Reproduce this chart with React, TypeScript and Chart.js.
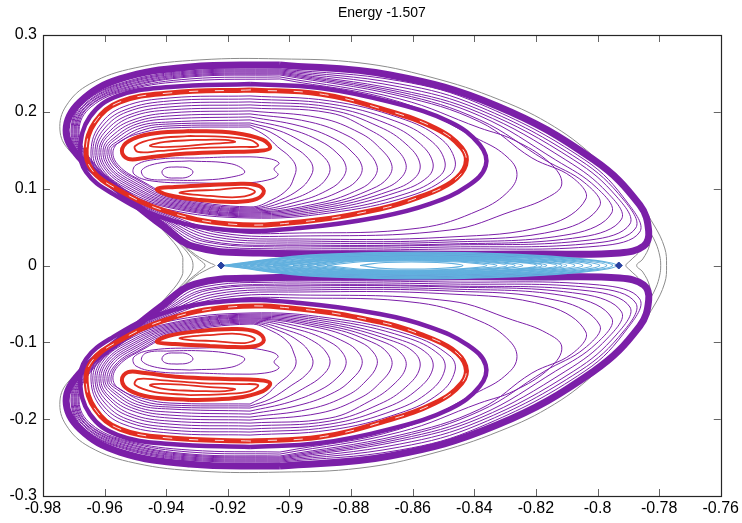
import React, { useEffect, useRef } from 'react';
import { Chart, registerables } from 'chart.js';

Chart.register(...registerables);

type P = [number, number];

const chartTitle = 'Energy -1.507';
const xTickValues = [-0.98, -0.96, -0.94, -0.92, -0.9, -0.88, -0.86, -0.84, -0.82, -0.8, -0.78, -0.76];
const xTickLabels = ['-0.98', '-0.96', '-0.94', '-0.92', '-0.9', '-0.88', '-0.86', '-0.84', '-0.82', '-0.8', '-0.78', '-0.76'];
const yTickValues = [-0.3, -0.2, -0.1, 0, 0.1, 0.2, 0.3];
const yTickLabels = ['-0.3', '-0.2', '-0.1', '0', '0.1', '0.2', '0.3'];

// Upper lobe (lower lobe is its mirror image in y)
const outerBand: P[] = [[-0.9031,0.2611],[-0.9323,0.2585],[-0.9550,0.2428],[-0.9680,0.2129],[-0.9725,0.1764],[-0.9683,0.1413],[-0.9557,0.0983],[-0.9411,0.0514],[-0.9307,0.0241],[-0.9096,0.0163],[-0.8642,0.0150],[-0.8187,0.0150],[-0.7928,0.0163],[-0.7850,0.0254],[-0.7834,0.0449],[-0.7863,0.0788],[-0.8012,0.1374],[-0.8327,0.2077],[-0.8674,0.2480]];

const outerLoops: P[][] = [
  [[-0.9031,0.2559],[-0.9323,0.2533],[-0.9534,0.2389],[-0.9670,0.2116],[-0.9709,0.1764],[-0.9677,0.1413],[-0.9563,0.0983],[-0.9411,0.0566],[-0.9291,0.0254],[-0.8966,0.0202],[-0.8479,0.0215],[-0.7993,0.0254],[-0.7863,0.0436],[-0.7902,0.0814],[-0.8041,0.1374],[-0.8382,0.2103],[-0.8642,0.2402]],
  [[-0.9031,0.2546],[-0.9323,0.2520],[-0.9534,0.2376],[-0.9667,0.2116],[-0.9706,0.1764],[-0.9674,0.1413],[-0.9560,0.0983],[-0.9407,0.0566],[-0.9281,0.0280],[-0.8966,0.0228],[-0.8479,0.0241],[-0.8006,0.0293],[-0.7876,0.0488],[-0.7915,0.0853],[-0.8058,0.1374],[-0.8382,0.2064],[-0.8642,0.2363]],
  [[-0.9031,0.2533],[-0.9323,0.2507],[-0.9534,0.2363],[-0.9664,0.2103],[-0.9703,0.1764],[-0.9670,0.1413],[-0.9557,0.0983],[-0.9404,0.0579],[-0.9271,0.0306],[-0.8966,0.0254],[-0.8479,0.0267],[-0.8025,0.0332],[-0.7895,0.0540],[-0.7937,0.0892],[-0.8077,0.1374],[-0.8382,0.2025],[-0.8642,0.2324]],
  [[-0.9031,0.2520],[-0.9323,0.2494],[-0.9531,0.2350],[-0.9660,0.2103],[-0.9699,0.1764],[-0.9667,0.1413],[-0.9553,0.0983],[-0.9401,0.0592],[-0.9261,0.0319],[-0.8966,0.0267],[-0.8479,0.0280],[-0.8051,0.0371],[-0.7922,0.0605],[-0.7967,0.0944],[-0.8103,0.1374],[-0.8382,0.1986],[-0.8642,0.2285]],
  [[-0.9031,0.2507],[-0.9323,0.2480],[-0.9531,0.2337],[-0.9657,0.2090],[-0.9696,0.1764],[-0.9664,0.1413],[-0.9550,0.0983],[-0.9398,0.0605],[-0.9252,0.0345],[-0.8966,0.0293],[-0.8479,0.0306],[-0.8084,0.0410],[-0.7954,0.0684],[-0.8002,0.1009],[-0.8136,0.1374],[-0.8382,0.1947],[-0.8642,0.2259]],
  [[-0.9031,0.2494],[-0.9323,0.2467],[-0.9527,0.2324],[-0.9654,0.2090],[-0.9693,0.1764],[-0.9660,0.1413],[-0.9547,0.0983],[-0.9394,0.0618],[-0.9242,0.0371],[-0.8966,0.0319],[-0.8479,0.0332],[-0.8123,0.0462],[-0.7993,0.0775],[-0.8041,0.1074],[-0.8171,0.1374],[-0.8382,0.1895],[-0.8642,0.2233]],
  [[-0.9031,0.2480],[-0.9323,0.2454],[-0.9527,0.2311],[-0.9651,0.2077],[-0.9690,0.1764],[-0.9657,0.1413],[-0.9544,0.0996],[-0.9391,0.0631],[-0.9232,0.0397],[-0.8966,0.0345],[-0.8479,0.0371],[-0.8161,0.0527],[-0.8038,0.0866],[-0.8084,0.1152],[-0.8213,0.1400],[-0.8382,0.1869],[-0.8642,0.2207]],
  [[-0.9031,0.2454],[-0.9323,0.2428],[-0.9524,0.2298],[-0.9648,0.2077],[-0.9686,0.1764],[-0.9654,0.1413],[-0.9540,0.0996],[-0.9388,0.0645],[-0.9222,0.0423],[-0.8966,0.0384],[-0.8479,0.0462],[-0.8275,0.0710],[-0.8165,0.0879],[-0.8116,0.1061],[-0.8155,0.1335],[-0.8272,0.1634],[-0.8382,0.1790],[-0.8642,0.2168]],
  [[-0.9031,0.2428],[-0.9323,0.2402],[-0.9524,0.2285],[-0.9644,0.2064],[-0.9683,0.1764],[-0.9651,0.1413],[-0.9537,0.0996],[-0.9385,0.0658],[-0.9213,0.0449],[-0.8966,0.0423],[-0.8577,0.0488],[-0.8382,0.0723],[-0.8285,0.0983],[-0.8262,0.1217],[-0.8301,0.1439],[-0.8382,0.1634],[-0.8642,0.2129]],
];

const bandOutsideRed: P[] = [[-0.9128,0.2363],[-0.9388,0.2324],[-0.9557,0.2207],[-0.9648,0.1934],[-0.9680,0.1504],[-0.9660,0.1217],[-0.9583,0.0957],[-0.9420,0.0632],[-0.9200,0.0462],[-0.8966,0.0488],[-0.8707,0.0632],[-0.8544,0.0801],[-0.8421,0.1036],[-0.8363,0.1296],[-0.8382,0.1569],[-0.8479,0.1868],[-0.8674,0.2129],[-0.8901,0.2311]];

const redChain: P[] = [[-0.9128,0.2285],[-0.9388,0.2246],[-0.9550,0.2129],[-0.9631,0.1868],[-0.9660,0.1504],[-0.9641,0.1244],[-0.9566,0.1009],[-0.9404,0.0710],[-0.9193,0.0540],[-0.8966,0.0566],[-0.8707,0.0736],[-0.8577,0.0892],[-0.8473,0.1087],[-0.8428,0.1309],[-0.8441,0.1530],[-0.8528,0.1790],[-0.8690,0.2025],[-0.8901,0.2233]];

const innerLoops: P[][] = [
  [[-0.9128,0.2207],[-0.9388,0.2181],[-0.9540,0.2064],[-0.9615,0.1829],[-0.9644,0.1504],[-0.9625,0.1217],[-0.9557,0.0983],[-0.9404,0.0736],[-0.9128,0.0618],[-0.8869,0.0684],[-0.8609,0.0905],[-0.8479,0.1178],[-0.8463,0.1374],[-0.8512,0.1660],[-0.8642,0.1921],[-0.8869,0.2142]],
  [[-0.9128,0.2168],[-0.9388,0.2142],[-0.9534,0.2025],[-0.9609,0.1803],[-0.9638,0.1504],[-0.9618,0.1230],[-0.9550,0.0996],[-0.9401,0.0762],[-0.9128,0.0632],[-0.8869,0.0710],[-0.8625,0.0931],[-0.8512,0.1165],[-0.8496,0.1361],[-0.8544,0.1634],[-0.8658,0.1882],[-0.8869,0.2103]],
  [[-0.9128,0.2129],[-0.9388,0.2103],[-0.9527,0.1999],[-0.9602,0.1777],[-0.9631,0.1504],[-0.9612,0.1244],[-0.9544,0.1009],[-0.9398,0.0775],[-0.9128,0.0645],[-0.8869,0.0736],[-0.8648,0.0957],[-0.8551,0.1152],[-0.8535,0.1348],[-0.8583,0.1608],[-0.8681,0.1842],[-0.8869,0.2064]],
  [[-0.9128,0.2090],[-0.9388,0.2064],[-0.9521,0.1960],[-0.9596,0.1751],[-0.9625,0.1504],[-0.9605,0.1244],[-0.9537,0.1022],[-0.9394,0.0788],[-0.9128,0.0658],[-0.8869,0.0762],[-0.8674,0.0970],[-0.8593,0.1139],[-0.8577,0.1335],[-0.8622,0.1582],[-0.8707,0.1803],[-0.8869,0.2025]],
  [[-0.9128,0.2051],[-0.9388,0.2025],[-0.9514,0.1934],[-0.9589,0.1725],[-0.9618,0.1504],[-0.9599,0.1257],[-0.9531,0.1035],[-0.9391,0.0801],[-0.9128,0.0671],[-0.8869,0.0788],[-0.8703,0.0983],[-0.8638,0.1139],[-0.8622,0.1322],[-0.8664,0.1556],[-0.8739,0.1764],[-0.8869,0.1986]],
  [[-0.9128,0.2012],[-0.9388,0.1986],[-0.9508,0.1895],[-0.9583,0.1712],[-0.9612,0.1504],[-0.9592,0.1257],[-0.9524,0.1048],[-0.9388,0.0814],[-0.9128,0.0684],[-0.8869,0.0814],[-0.8733,0.0996],[-0.8681,0.1139],[-0.8668,0.1309],[-0.8707,0.1530],[-0.8771,0.1725],[-0.8901,0.1921]],
  [[-0.9128,0.1973],[-0.9388,0.1947],[-0.9501,0.1868],[-0.9576,0.1686],[-0.9605,0.1504],[-0.9586,0.1270],[-0.9518,0.1061],[-0.9385,0.0827],[-0.9128,0.0697],[-0.8901,0.0814],[-0.8771,0.0996],[-0.8726,0.1139],[-0.8716,0.1296],[-0.8752,0.1504],[-0.8810,0.1686],[-0.8934,0.1868]],
  [[-0.9128,0.1934],[-0.9388,0.1908],[-0.9495,0.1842],[-0.9570,0.1660],[-0.9599,0.1504],[-0.9579,0.1270],[-0.9511,0.1074],[-0.9381,0.0840],[-0.9128,0.0710],[-0.8934,0.0827],[-0.8820,0.0996],[-0.8775,0.1139],[-0.8765,0.1296],[-0.8797,0.1478],[-0.8853,0.1647],[-0.8966,0.1816]],
  [[-0.9128,0.1895],[-0.9388,0.1868],[-0.9489,0.1816],[-0.9563,0.1647],[-0.9592,0.1504],[-0.9573,0.1283],[-0.9505,0.1087],[-0.9378,0.0853],[-0.9128,0.0723],[-0.8966,0.0840],[-0.8869,0.0996],[-0.8827,0.1139],[-0.8817,0.1296],[-0.8846,0.1465],[-0.8901,0.1621],[-0.8999,0.1777]],
  [[-0.9128,0.1855],[-0.9388,0.1842],[-0.9482,0.1790],[-0.9557,0.1621],[-0.9586,0.1504],[-0.9566,0.1296],[-0.9498,0.1100],[-0.9375,0.0866],[-0.9128,0.0736],[-0.8999,0.0853],[-0.8918,0.0996],[-0.8879,0.1139],[-0.8869,0.1283],[-0.8895,0.1439],[-0.8947,0.1582],[-0.9031,0.1751]],
  [[-0.9128,0.1829],[-0.9388,0.1816],[-0.9476,0.1764],[-0.9550,0.1608],[-0.9579,0.1504],[-0.9560,0.1296],[-0.9492,0.1113],[-0.9372,0.0879],[-0.9128,0.0749],[-0.9031,0.0853],[-0.8966,0.0996],[-0.8934,0.1139],[-0.8924,0.1283],[-0.8947,0.1426],[-0.8992,0.1556],[-0.9063,0.1738]],
  [[-0.9128,0.1803],[-0.9388,0.1790],[-0.9469,0.1738],[-0.9547,0.1621],[-0.9573,0.1478],[-0.9553,0.1296],[-0.9485,0.1113],[-0.9368,0.0892],[-0.9128,0.0762],[-0.9057,0.0853],[-0.9005,0.0996],[-0.8986,0.1139],[-0.8979,0.1283],[-0.8999,0.1413],[-0.9038,0.1543],[-0.9076,0.1686]],
];

const centreLoops: P[][] = [
  [[-0.9365,0.1283],[-0.9401,0.1270],[-0.9414,0.1217],[-0.9401,0.1152],[-0.9365,0.1139],[-0.9330,0.1152],[-0.9313,0.1217],[-0.9330,0.1270]],
  [[-0.9323,0.1361],[-0.9420,0.1335],[-0.9479,0.1244],[-0.9466,0.1139],[-0.9388,0.1113],[-0.9274,0.1113],[-0.9187,0.1152],[-0.9145,0.1217],[-0.9187,0.1322]],
  [[-0.9291,0.1400],[-0.9420,0.1387],[-0.9498,0.1309],[-0.9505,0.1191],[-0.9446,0.1100],[-0.9291,0.1074],[-0.9145,0.1074],[-0.9070,0.1113],[-0.9037,0.1178],[-0.9050,0.1257],[-0.9034,0.1335],[-0.9080,0.1400],[-0.9177,0.1413]],
];

const upperIslandOuter: P[] = [[-0.9323,0.1751],[-0.9453,0.1712],[-0.9521,0.1621],[-0.9544,0.1491],[-0.9524,0.1387],[-0.9469,0.1400],[-0.9356,0.1452],[-0.9209,0.1478],[-0.9102,0.1491],[-0.9063,0.1530],[-0.9086,0.1634],[-0.9177,0.1725]];
const upperIslandInner: P[][] = [
  [[-0.9323,0.1686],[-0.9437,0.1647],[-0.9501,0.1556],[-0.9492,0.1478],[-0.9420,0.1491],[-0.9291,0.1530],[-0.9161,0.1543],[-0.9102,0.1556],[-0.9128,0.1634],[-0.9209,0.1673]],
  [[-0.9307,0.1634],[-0.9404,0.1608],[-0.9453,0.1556],[-0.9388,0.1543],[-0.9258,0.1582],[-0.9177,0.1608],[-0.9209,0.1634]],
];
const lowerIslandOuter: P[] = [[-0.9258,0.1048],[-0.9372,0.1022],[-0.9430,0.0996],[-0.9394,0.0918],[-0.9291,0.0853],[-0.9177,0.0827],[-0.9106,0.0866],[-0.9083,0.0970],[-0.9109,0.1048],[-0.9177,0.1061]];
const lowerIslandInner: P[] = [[-0.9242,0.0983],[-0.9323,0.0970],[-0.9356,0.0944],[-0.9258,0.0905],[-0.9161,0.0892],[-0.9112,0.0957],[-0.9145,0.1009]];

// Separatrix-like gray orbits (upper halves, mirrored for the lower half)
const grayOuterHalf: P[] = [[-0.9346,0],[-0.9349,0.0137],[-0.9388,0.0358],[-0.9485,0.0762],[-0.9615,0.1178],[-0.9716,0.1504],[-0.9745,0.1764],[-0.9725,0.2077],[-0.9648,0.2363],[-0.9501,0.2572],[-0.9291,0.2676],[-0.9031,0.2689],[-0.8771,0.2637],[-0.8544,0.2454],[-0.8317,0.2155],[-0.8139,0.1803],[-0.7999,0.1374],[-0.7889,0.0944],[-0.7817,0.0527],[-0.7782,0.0228],[-0.7776,0]];
const grayArcHalves: P[][] = [
  [[-0.9420,0.0566],[-0.9362,0.0306],[-0.9323,0.0124],[-0.9313,0]],
  [[-0.9394,0.0462],[-0.9330,0.0202],[-0.9291,0.0072],[-0.9274,0]],
  [[-0.9369,0.0358],[-0.9304,0.0137],[-0.9258,0.0033],[-0.9242,0]],
  [[-0.7837,0.0488],[-0.7811,0.0293],[-0.7798,0.0124],[-0.7795,0]],
  [[-0.7827,0.0488],[-0.7831,0.0267],[-0.7853,0.0085],[-0.7873,0]],
  [[-0.7834,0.0436],[-0.7860,0.0202],[-0.7895,0.0059],[-0.7908,0]],
];

// Central (light blue) nested orbits
const blueOrbits: P[][] = [
  [[-0.8771,0],[-0.8688,0.0039],[-0.8521,0.0039],[-0.8437,0],[-0.8521,-0.0039],[-0.8688,-0.0039]],
  [[-0.8879,0],[-0.8749,0.0052],[-0.8489,0.0052],[-0.8359,0],[-0.8489,-0.0052],[-0.8749,-0.0052]],
  [[-0.8912,0],[-0.8766,0.0059],[-0.8473,0.0059],[-0.8327,0],[-0.8473,-0.0059],[-0.8766,-0.0059]],
  [[-0.8943,0],[-0.8781,0.0065],[-0.8456,0.0065],[-0.8294,0],[-0.8456,-0.0065],[-0.8781,-0.0065]],
  [[-0.8966,0],[-0.8792,0.0069],[-0.8443,0.0069],[-0.8268,0],[-0.8443,-0.0069],[-0.8792,-0.0069]],
  [[-0.8989,0],[-0.8802,0.0072],[-0.8430,0.0072],[-0.8243,0],[-0.8430,-0.0072],[-0.8802,-0.0072]],
  [[-0.9021,0],[-0.8815,0.0078],[-0.8403,0.0078],[-0.8197,0],[-0.8403,-0.0078],[-0.8815,-0.0078]],
  [[-0.9038,0],[-0.8824,0.0082],[-0.8395,0.0082],[-0.8181,0],[-0.8395,-0.0082],[-0.8824,-0.0082]],
  [[-0.9054,0],[-0.8832,0.0085],[-0.8387,0.0085],[-0.8165,0],[-0.8387,-0.0085],[-0.8832,-0.0085]],
  [[-0.9080,0],[-0.8843,0.0091],[-0.8369,0.0091],[-0.8132,0],[-0.8369,-0.0091],[-0.8843,-0.0091]],
  [[-0.9093,0],[-0.8849,0.0095],[-0.8360,0.0095],[-0.8116,0],[-0.8360,-0.0095],[-0.8849,-0.0095]],
  [[-0.9106,0],[-0.8855,0.0098],[-0.8352,0.0098],[-0.8100,0],[-0.8352,-0.0098],[-0.8855,-0.0098]],
  [[-0.9128,0],[-0.8865,0.0104],[-0.8338,0.0104],[-0.8074,0],[-0.8338,-0.0104],[-0.8865,-0.0104]],
  [[-0.9151,0],[-0.8875,0.0111],[-0.8324,0.0111],[-0.8048,0],[-0.8324,-0.0111],[-0.8875,-0.0111]],
  [[-0.9171,0],[-0.8883,0.0117],[-0.8307,0.0117],[-0.8019,0],[-0.8307,-0.0117],[-0.8883,-0.0117]],
  [[-0.9187,0],[-0.8889,0.0124],[-0.8292,0.0124],[-0.7993,0],[-0.8292,-0.0124],[-0.8889,-0.0124]],
  [[-0.9200,0],[-0.8893,0.0130],[-0.8278,0.0130],[-0.7970,0],[-0.8278,-0.0130],[-0.8893,-0.0130]],
  [[-0.9213,0],[-0.8896,0.0137],[-0.8268,0.0137],[-0.7951,0],[-0.8268,-0.0137],[-0.8896,-0.0137]],
  [[-0.9219,0],[-0.8899,0.0145],[-0.8258,0.0145],[-0.7937,0],[-0.8258,-0.0145],[-0.8899,-0.0145]],
];

const fixedPointX = [-0.9222, -0.7931];
const fixedPointY = [0, 0];

const PURPLE = 'rgb(123,31,168)';
const RED = 'rgb(226,45,32)';
const BLUE = 'rgb(98,176,222)';
const GRAY = 'rgb(140,140,140)';
const MARK = 'rgb(40,64,160)';
const FONT = '"Liberation Sans", Arial, Helvetica, sans-serif';

function buildDatasets() {
  const ds: any[] = [];
  const add = (pts: { x: number; y: number }[], color: string, width: number, extra: any = {}) => {
    ds.push({
      data: pts, showLine: true, borderColor: color, backgroundColor: color, borderWidth: width,
      pointRadius: 0, pointHoverRadius: 0, tension: 0.4, fill: false, ...extra,
    });
  };
  const loopPts = (p: P[], sign: number) => {
    const a = p.map(([x, y]) => ({ x, y: sign * y }));
    a.push(a[0]);
    return a;
  };
  const symPts = (half: P[]) => {
    const up = half.map(([x, y]) => ({ x, y }));
    const down = half.slice(0, -1).reverse().map(([x, y]) => ({ x, y: -y }));
    return [...up, ...down];
  };
  const both = (p: P[], color: string, width: number, extra: any = {}) => {
    add(loopPts(p, 1), color, width, extra);
    add(loopPts(p, -1), color, width, extra);
  };

  // bottom -> top
  add(symPts(grayOuterHalf), GRAY, 1);
  grayArcHalves.forEach((h) => add(symPts(h), GRAY, 1));
  both(outerBand, PURPLE, 7);
  outerLoops.forEach((l) => both(l, PURPLE, 1));
  both(bandOutsideRed, PURPLE, 4.5);
  innerLoops.forEach((l) => both(l, PURPLE, 1));
  centreLoops.forEach((l) => both(l, PURPLE, 1));
  both(redChain, RED, 5);
  both(redChain, 'rgba(255,255,255,0.85)', 1, { borderDash: [9, 17] });
  both(upperIslandOuter, RED, 4);
  upperIslandInner.forEach((l) => both(l, RED, 1.8));
  both(lowerIslandOuter, RED, 4);
  both(lowerIslandInner, RED, 1.8);
  blueOrbits.forEach((l) => add(loopPts(l, 1), BLUE, 1.2));

  ds.push({
    data: fixedPointX.map((x, i) => ({ x, y: fixedPointY[i] })),
    showLine: false, pointStyle: 'rectRot', pointRadius: 3.5, pointHoverRadius: 3.5,
    backgroundColor: MARK, borderColor: MARK, borderWidth: 1,
  });

  ds.forEach((d, i) => { d.order = -i; });
  return ds;
}

const framePlugin = {
  id: 'frameAndTitle',
  afterDraw(chart: any) {
    const { ctx, chartArea } = chart;
    const { left, right, top, bottom } = chartArea;
    const xs = chart.scales.x;
    const ys = chart.scales.y;
    ctx.save();
    ctx.strokeStyle = '#666';
    ctx.lineWidth = 1;
    const tl = 7;
    ctx.beginPath();
    xTickValues.forEach((v) => {
      const px = Math.round(xs.getPixelForValue(v)) + 0.5;
      ctx.moveTo(px, bottom); ctx.lineTo(px, bottom - tl);
      ctx.moveTo(px, top); ctx.lineTo(px, top + tl);
    });
    yTickValues.forEach((v) => {
      const py = Math.round(ys.getPixelForValue(v)) + 0.5;
      ctx.moveTo(left, py); ctx.lineTo(left + tl, py);
      ctx.moveTo(right, py); ctx.lineTo(right - tl, py);
    });
    ctx.stroke();
    ctx.strokeStyle = '#262626';
    ctx.lineWidth = 1.2;
    ctx.strokeRect(Math.round(left) + 0.5, Math.round(top) + 0.5, Math.round(right - left), Math.round(bottom - top));
    ctx.fillStyle = '#000';
    ctx.font = `14px ${FONT}`;
    ctx.textAlign = 'center';
    ctx.textBaseline = 'middle';
    ctx.fillText(chartTitle, (left + right) / 2, 13);
    ctx.restore();
  },
};

export default function App() {
  const ref = useRef<HTMLCanvasElement>(null);
  useEffect(() => {
    if (!ref.current) return;
    const chart = new Chart(ref.current, {
      type: 'scatter',
      data: { datasets: buildDatasets() },
      options: {
        responsive: false,
        animation: false,
        devicePixelRatio: 1,
        events: [],
        layout: { padding: { top: 35, right: 21, left: 0, bottom: 0 } },
        plugins: { legend: { display: false }, tooltip: { enabled: false }, title: { display: false } },
        scales: {
          x: {
            type: 'linear', min: -0.98, max: -0.76,
            afterBuildTicks: (s: any) => { s.ticks = xTickValues.map((value) => ({ value })); },
            afterFit: (s: any) => { s.height = 27; },
            ticks: {
              autoSkip: false, maxRotation: 0, padding: 3, color: '#000',
              font: { family: FONT, size: 16 },
              callback: (_v: any, i: number) => xTickLabels[i],
            },
            grid: { display: false, drawTicks: false },
            border: { display: false },
          },
          y: {
            type: 'linear', min: -0.3, max: 0.3,
            afterBuildTicks: (s: any) => { s.ticks = yTickValues.map((value) => ({ value })); },
            afterFit: (s: any) => { s.width = 43; },
            ticks: {
              autoSkip: false, padding: 6, color: '#000',
              font: { family: FONT, size: 16 },
              callback: (_v: any, i: number) => yTickLabels[i],
            },
            grid: { display: false, drawTicks: false },
            border: { display: false },
          },
        },
      } as any,
      plugins: [framePlugin],
    });
    return () => chart.destroy();
  }, []);
  return (
    <div style={{ position: 'absolute', left: 0, top: 0, width: 742, height: 523, background: '#fff' }}>
      <canvas ref={ref} width={742} height={523} style={{ display: 'block' }} />
    </div>
  );
}
